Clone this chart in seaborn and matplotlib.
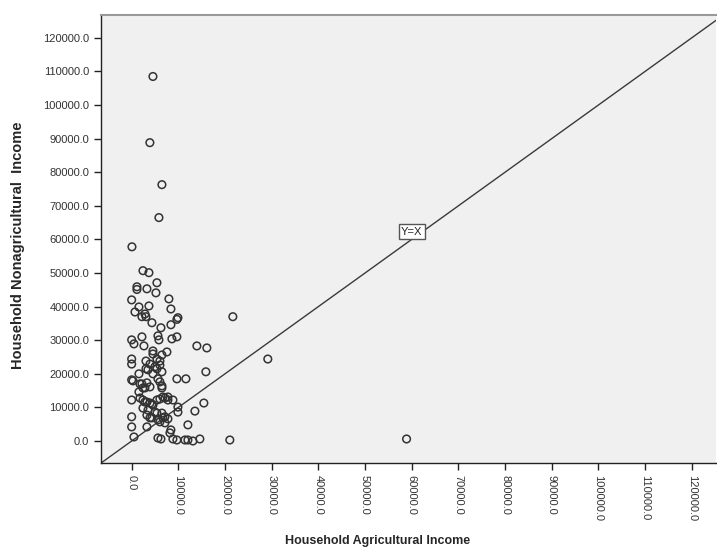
import numpy as np
import pandas as pd
import matplotlib
matplotlib.use("Agg")
import matplotlib.pyplot as plt
import seaborn as sns

# ===============================
# DATOS
# ===============================

agri_income = [
    4560, 3900, 6480, 5840, 60, 2420, 3700, 1130, 1130, 3270,
    5410, 5200, 7980, 0, 1560, 3700, 710, 2850, 2200, 3060,
    8410, 9910, 9700, 4340, 6270, 8410, 21680, 0, 490, 2200,
    2630, 5630, 5840, 8620, 9690, 4560, 4560, 7550, 6480, 13970,
    16110, 29170, 0, 0, 3060, 3920, 6050, 1560, 4560, 6480,
    15900, 9690, 11620, 0, 280, 2200, 3270, 3920, 5630, 6050,
    6480, 3490, 5410, 1560, 2850, 0, 2420, 3270, 3920, 4560,
    5410, 6050, 7130, 7770, 8840, 9910, 15470, 13550, 9910, 3270,
    3920, 5410, 5630, 6700, 7770, 0, 0, 3270, 12050, 8410,
    8200, 490, 5630, 6270, 8840, 9690, 11410, 12050, 13120, 14610,
    21030, 58900, 1790, 2850, 4340, 6700, 2420, 3490, 4990, 6480,
    7130, 4340, 6050, 7130, 2420, 6480, 1780, 7770, 5410, 6050,
    3060, 4990,
]

nonagri_income = [
    108500, 88800, 76300, 66500, 57800, 50700, 50100, 45900, 45100, 45300,
    47100, 44100, 42300, 42000, 39900, 40200, 38400, 37800, 37000, 37000,
    39300, 36700, 36200, 35200, 33700, 34600, 37000, 30100, 28900, 31000,
    28300, 31300, 30100, 30400, 31000, 26800, 25900, 26500, 25600, 28300,
    27700, 24400, 24400, 22900, 23800, 22900, 23800, 20000, 20000, 20600,
    20600, 18500, 18500, 18200, 17900, 17000, 17300, 16100, 18500, 17600,
    16400, 21200, 21500, 14600, 15800, 12200, 12200, 11600, 11300, 10700,
    12200, 12500, 12800, 13100, 12200, 10100, 11300, 8900, 8600, 7700,
    6900, 8300, 6300, 6900, 6600, 7200, 4200, 4200, 4800, 3300,
    2400, 1200, 900, 600, 600, 300, 300, 300, 0, 600,
    300, 600, 12800, 11600, 11000, 13100, 9800, 9200, 8600, 8300,
    7200, 6900, 5700, 5400, 15800, 15800, 17000, 12200, 24400, 22600,
    21500, 22100,
]

tick_values = [0, 10000, 20000, 30000, 40000, 50000, 60000,
               70000, 80000, 90000, 100000, 110000, 120000]
tick_labels = [f"{v:.1f}" for v in tick_values]

ref_label = "Y=X"
ref_label_pos = (60000, 62300)

df = pd.DataFrame({"agri": agri_income, "nonagri": nonagri_income})

# ===============================
# GRAFICO
# ===============================

sns.set_style("ticks")
plt.rcParams["font.family"] = ["Liberation Sans", "DejaVu Sans"]

fig = plt.figure(figsize=(7.17, 5.5), dpi=100)
ax = fig.add_axes([101 / 717, 87 / 550, 615 / 717, 448 / 550])
ax.set_facecolor("#f0f0f0")

sns.scatterplot(
    data=df,
    x="agri",
    y="nonagri",
    ax=ax,
    s=30,
    facecolors="none",
    edgecolor="#333333",
    linewidth=1.1,
    zorder=3
)

ax.axline((0, 0), slope=1, color="#3a3a3a", linewidth=1.0, zorder=2)

ax.text(
    ref_label_pos[0], ref_label_pos[1], ref_label,
    fontsize=8, ha="center", va="center", color="#222222", zorder=4,
    bbox=dict(boxstyle="square,pad=0.2", facecolor="white",
              edgecolor="#555555", linewidth=1.0)
)

ax.set_xlim(-6570, 125200)
ax.set_ylim(-6550, 126800)

ax.set_xticks(tick_values)
ax.set_xticklabels(tick_labels, rotation=-90, fontsize=8, color="#333333")
ax.set_yticks(tick_values)
ax.set_yticklabels(tick_labels, fontsize=8, color="#333333")
ax.tick_params(axis="both", direction="out", length=5, width=1, color="#222222")

for side in ["left", "bottom"]:
    ax.spines[side].set_color("#222222")
    ax.spines[side].set_linewidth(1.0)
ax.spines["top"].set_color("#999999")
ax.spines["top"].set_linewidth(1.5)
ax.spines["right"].set_visible(False)

ax.set_xlabel("Household Agricultural Income", fontsize=9, fontweight="bold")
ax.set_ylabel("Household Nonagricultural  Income", fontsize=10.5, fontweight="bold")
ax.xaxis.set_label_coords(0.45, -0.16)
ax.yaxis.set_label_coords(-0.124, 0.487)

fig.savefig("out.png", dpi=100)
